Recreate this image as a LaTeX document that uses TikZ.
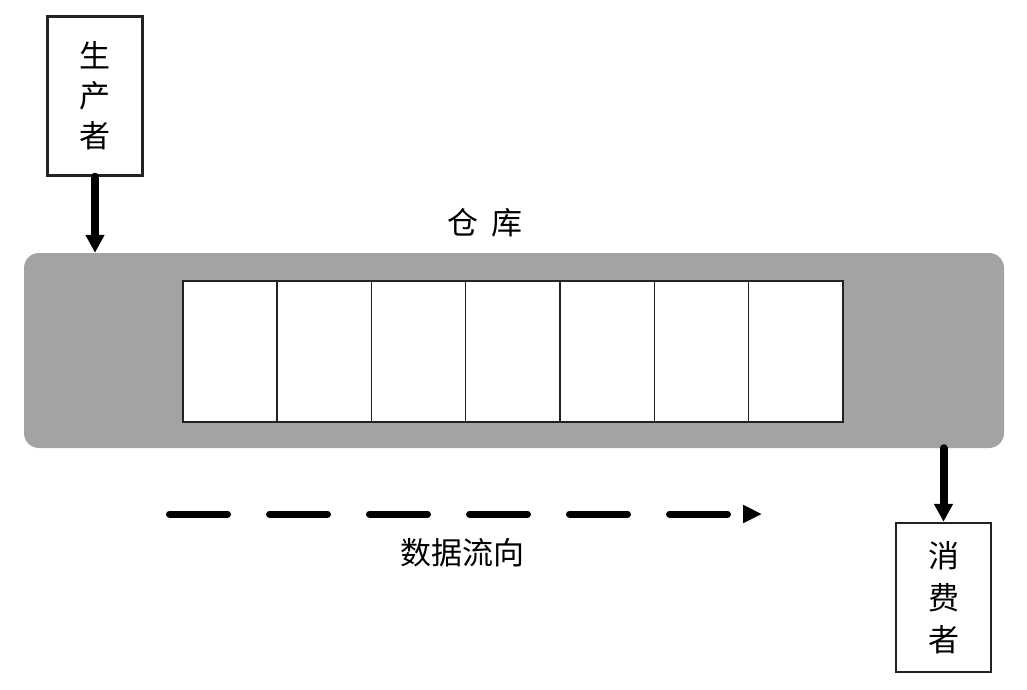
\documentclass[tikz,border=0pt]{standalone}
\usepackage{fontspec}
\newfontfamily\cjk{Noto Sans CJK SC}
\usetikzlibrary{arrows.meta}
\definecolor{storegray}{HTML}{A3A3A3}
\definecolor{linegray}{HTML}{222222}
\tikzset{
  actor/.style={draw=linegray, line width=2.4pt, fill=white, minimum width=95pt, inner sep=0pt, align=center, font=\cjk\fontsize{31}{40}\selectfont},
  cell/.style={draw=linegray, line width=1.5pt, fill=white, minimum width=94.3pt, minimum height=141pt, inner sep=0pt, anchor=west},
  store/.style={fill=storegray, rounded corners=15pt, minimum width=980pt, minimum height=195pt, inner sep=0pt},
  flow/.style={line width=8pt, line cap=round, -{Triangle[width=18pt,length=18pt]}},
  label/.style={font=\cjk\fontsize{31}{36}\selectfont, inner sep=0pt},
  dataflow/.style={line width=7pt, line cap=round, dash pattern=on 58pt off 42pt, -{Triangle[width=17pt,length=19pt]}}
}
\begin{document}
\begin{tikzpicture}[x=1pt,y=-1pt]
\useasboundingbox (0,0) rectangle (1027,689);
\node[store] (store) at (514,350.5) {};
\foreach \i in {1,...,7} {
  \node[cell] (c\i) at ({182+(\i-1)*94.3},351.5) {};
}
\node[label] (storelbl) at (485,223) {仓\hspace{0.4em}库};
\node[actor, minimum height=159pt] (prod) at (95,96) {生\\产\\者};
\node[actor, minimum height=149pt, font=\cjk\fontsize{31}{42}\selectfont] (cons) at (943.5,597.5) {消\\费\\者};
\draw[flow] (prod.south) -- (prod.south |- store.north);
\draw[flow] (cons.north |- store.south) -- (cons.north);
\coordinate (ds) at (169.5,514);
\coordinate (de) at (762,514);
\draw[dataflow] (ds) -- (de);
\node[label] (flowlbl) at (462,553) {数据流向};
\end{tikzpicture}
\end{document}
